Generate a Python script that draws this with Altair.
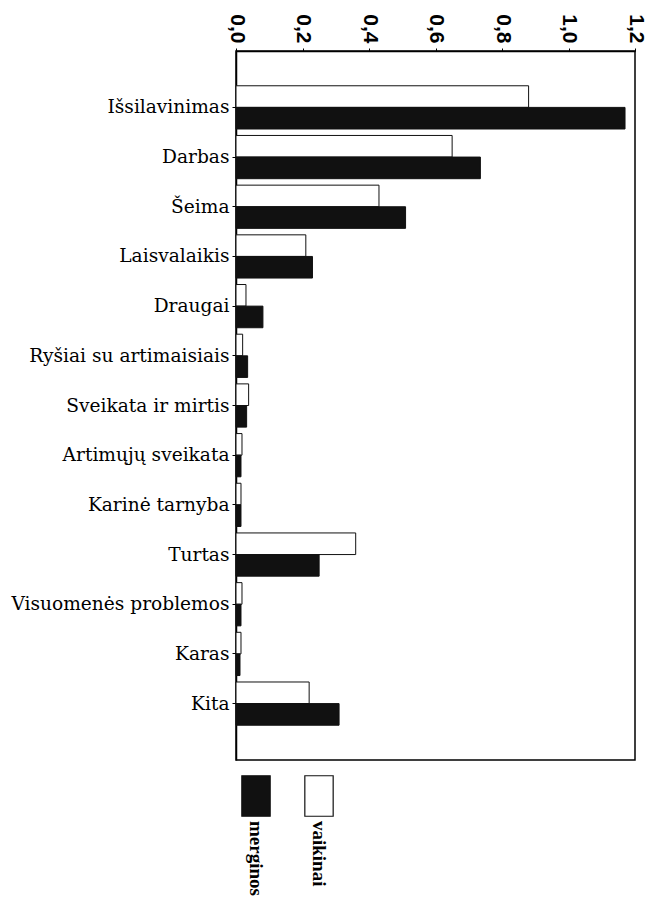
import altair as alt
import pandas as pd

categories = ["Išsilavinimas", "Darbas", "Šeima", "Laisvalaikis", "Draugai",
              "Ryšiai su artimaisiais", "Sveikata ir mirtis", "Artimųjų sveikata",
              "Karinė tarnyba", "Turtas", "Visuomenės problemos", "Karas", "Kita"]
vaikinai = [0.88, 0.65, 0.43, 0.21, 0.03, 0.02, 0.038, 0.018, 0.015, 0.36, 0.018, 0.015, 0.22]
merginos = [1.17, 0.735, 0.51, 0.23, 0.081, 0.035, 0.032, 0.015, 0.015, 0.25, 0.015, 0.012, 0.31]
series = ["vaikinai", "merginos"]
legend_order = ["merginos", "vaikinai"]
x_ticks = [0.0, 0.2, 0.4, 0.6, 0.8, 1.0, 1.2]

rows = []
for c, v, m in zip(categories, vaikinai, merginos):
    rows.append({"kategorija": c, "grupe": "vaikinai", "reiksme": v})
    rows.append({"kategorija": c, "grupe": "merginos", "reiksme": m})
df = pd.DataFrame(rows)

color_scale = alt.Scale(domain=["merginos", "vaikinai"], range=["#111111", "#ffffff"])

main = alt.Chart(df).mark_bar(stroke="#111111", strokeWidth=1).encode(
    y=alt.Y("kategorija:N", sort=categories,
            scale=alt.Scale(paddingInner=0.13, paddingOuter=0.7),
            axis=alt.Axis(title=None, labelFont="DejaVu Serif", labelFontSize=18.6,
                          labelColor="#000000", labelLimit=300, labelPadding=3,
                          tickSize=4, tickColor="#000000", domainColor="#000000",
                          domainWidth=1.5)),
    yOffset=alt.YOffset("grupe:N", sort=series, scale=alt.Scale(paddingInner=0, paddingOuter=0)),
    x=alt.X("reiksme:Q",
            scale=alt.Scale(domain=[0, 1.2], nice=False),
            axis=alt.Axis(title=None, orient="top", values=x_ticks, grid=False,
                          labelExpr="replace(format(datum.value, '.1f'), '.', ',')",
                          labelAngle=90, labelAlign="right", labelBaseline="middle",
                          labelFont="Liberation Sans", labelFontWeight="bold",
                          labelFontSize=21, labelColor="#000000", labelPadding=5,
                          tickSize=3, tickColor="#000000", domainColor="#000000",
                          domainWidth=1.5)),
    color=alt.Color("grupe:N", scale=color_scale, legend=None),
).properties(width=399, height=709,
             view=alt.ViewBackground(stroke="#000000", strokeWidth=1.5))

leg_df = pd.DataFrame({"grupe": legend_order})
leg_x = alt.X("grupe:N", scale=alt.Scale(type="point", domain=legend_order, range=[20, 83],
                                         padding=0), axis=None)
swatch = alt.Chart(leg_df).mark_point(
    shape="M-0.7,-1H0.7V1H-0.7Z", size=1640, filled=True,
    stroke="#111111", strokeWidth=1.2, opacity=1
).encode(
    x=leg_x,
    y=alt.value(22),
    fill=alt.Fill("grupe:N", scale=color_scale, legend=None),
)
labels = alt.Chart(leg_df).mark_text(
    angle=90, align="left", baseline="middle", font="Liberation Serif",
    fontSize=19, fontWeight="bold", color="#000000"
).encode(
    x=leg_x,
    y=alt.value(47),
    text="grupe:N",
)
legend = (swatch + labels).properties(width=100, height=60,
                                      view=alt.ViewBackground(strokeOpacity=0))

chart = alt.vconcat(main, legend, spacing=12).properties(
    padding={"left": 2, "top": 5, "right": 0, "bottom": 0}
).configure(background="#ffffff")

chart.save("out.html", embed_options={"renderer": "svg", "actions": False})
